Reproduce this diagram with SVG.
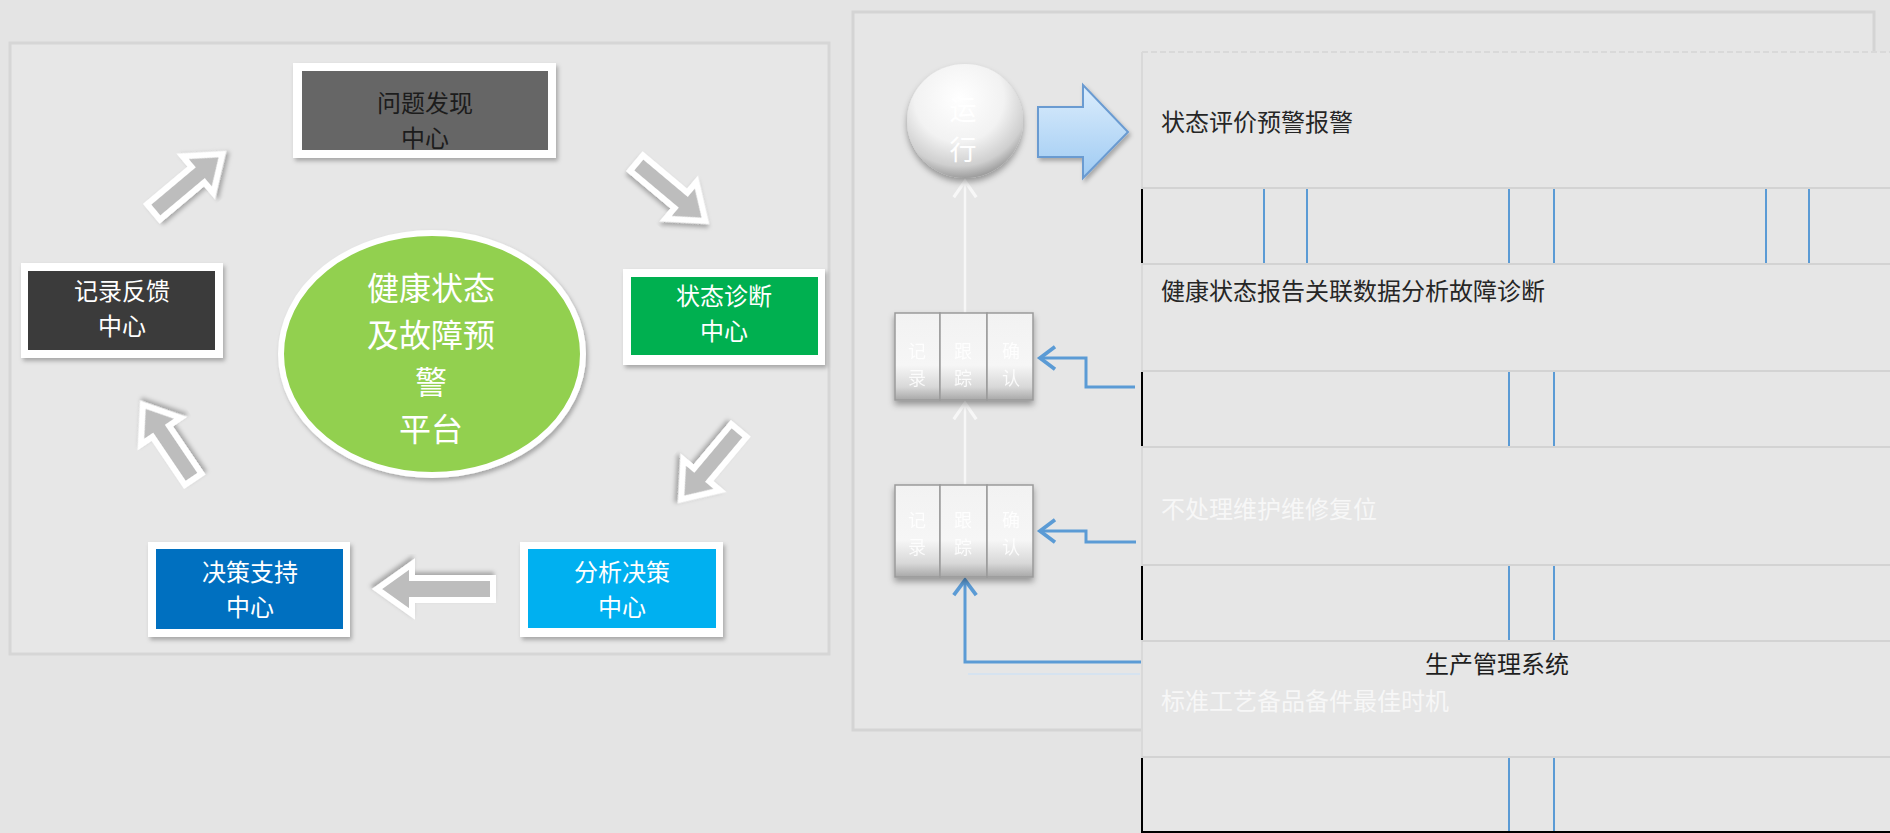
<svg xmlns="http://www.w3.org/2000/svg" width="1890" height="833" viewBox="0 0 1890 833">
<defs>
<style>
.cn{font-family:"Noto Sans CJK SC","Liberation Sans",sans-serif;}
.box-t{font-size:24px;text-anchor:middle;}
.ell-t{font-size:32px;fill:#ffffff;text-anchor:middle;}
.row-t{font-size:24px;dominant-baseline:central;}
.cell-t{font-size:18px;fill:#ffffff;fill-opacity:0.85;text-anchor:middle;}
.sep{stroke:#d3d3d3;stroke-width:2;}
.blk{stroke:#000000;stroke-width:2;}
.bl{stroke:#5b9bd5;stroke-width:2;}
.garrow{fill:#bdbdbd;stroke:#ffffff;stroke-width:6;stroke-linejoin:miter;filter:url(#sh);}
.cell{fill:url(#cellG);stroke:#9a9a9a;stroke-width:1.5;}
.conn-w{fill:none;stroke:#f7f7f7;stroke-width:2.5;}
.conn-b{fill:none;stroke:#5b9bd5;stroke-width:3;}
</style>
<filter id="sh" x="-20%" y="-20%" width="140%" height="140%">
<feDropShadow dx="2" dy="3" stdDeviation="2" flood-color="#000" flood-opacity="0.28"/>
</filter>
<filter id="sh2" x="-20%" y="-20%" width="140%" height="150%">
<feDropShadow dx="0" dy="4" stdDeviation="3" flood-color="#000" flood-opacity="0.35"/>
</filter>
<radialGradient id="ballG" cx="45%" cy="30%" r="70%">
<stop offset="0" stop-color="#ffffff"/>
<stop offset="0.55" stop-color="#f2f2f2"/>
<stop offset="0.85" stop-color="#cfcfcf"/>
<stop offset="1" stop-color="#9e9e9e"/>
</radialGradient>
<linearGradient id="cellG" x1="0" y1="0" x2="0" y2="1">
<stop offset="0" stop-color="#f2f2f2"/>
<stop offset="0.6" stop-color="#f6f6f6"/>
<stop offset="0.85" stop-color="#d8d8d8"/>
<stop offset="1" stop-color="#a8a8a8"/>
</linearGradient>
<linearGradient id="blueA" x1="0" y1="0" x2="0" y2="1">
<stop offset="0" stop-color="#dcedfc"/>
<stop offset="1" stop-color="#9fcbf3"/>
</linearGradient>
<marker id="chevB" markerUnits="userSpaceOnUse" markerWidth="30" markerHeight="30" viewBox="-16 -12 20 24" refX="0" refY="0" orient="auto" overflow="visible">
<path d="M-12,-9 L0,0 L-12,9" fill="none" stroke="#5b9bd5" stroke-width="3"/>
</marker>
<marker id="chevW" markerUnits="userSpaceOnUse" markerWidth="30" markerHeight="30" viewBox="-16 -12 20 24" refX="0" refY="0" orient="auto" overflow="visible">
<path d="M-13,-9 L0,0 L-13,9" fill="none" stroke="#f7f7f7" stroke-width="2.5"/>
</marker>
</defs>

<rect x="0" y="0" width="1890" height="833" fill="#e4e4e4"/>

<g id="left-panel">
<rect x="10" y="43" width="819" height="611" fill="#e7e7e7" stroke="#d6d6d6" stroke-width="3"/>
</g>

<g id="right-panel">
<rect x="853" y="12" width="1021" height="718" fill="#e6e6e6" stroke="#d4d4d4" stroke-width="3"/>
</g>

<g id="table">
<rect x="1142" y="52" width="748" height="781" fill="#e6e6e6"/>
<line x1="1142" y1="52" x2="1890" y2="52" stroke="#d9d9d9" stroke-width="2" stroke-dasharray="6 3"/>
<line x1="1142" y1="52" x2="1142" y2="833" stroke="#d9d9d9" stroke-width="2"/>
<line class="sep" x1="1142" y1="188" x2="1890" y2="188"/>
<line class="sep" x1="1142" y1="264" x2="1890" y2="264"/>
<line class="sep" x1="1142" y1="371" x2="1890" y2="371"/>
<line class="sep" x1="1142" y1="447" x2="1890" y2="447"/>
<line class="sep" x1="1142" y1="565" x2="1890" y2="565"/>
<line class="sep" x1="1142" y1="641" x2="1890" y2="641"/>
<line class="sep" x1="1142" y1="757" x2="1890" y2="757"/>
<line class="blk" x1="1142" y1="189" x2="1142" y2="263"/>
<line class="blk" x1="1142" y1="372" x2="1142" y2="446"/>
<line class="blk" x1="1142" y1="566" x2="1142" y2="640"/>
<line class="blk" x1="1142" y1="758" x2="1142" y2="833"/>
<line class="blk" x1="1142" y1="832" x2="1890" y2="832"/>
<line class="bl" x1="1264" y1="189" x2="1264" y2="263"/>
<line class="bl" x1="1307" y1="189" x2="1307" y2="263"/>
<line class="bl" x1="1509" y1="189" x2="1509" y2="263"/>
<line class="bl" x1="1554" y1="189" x2="1554" y2="263"/>
<line class="bl" x1="1766" y1="189" x2="1766" y2="263"/>
<line class="bl" x1="1809" y1="189" x2="1809" y2="263"/>
<line class="bl" x1="1509" y1="372" x2="1509" y2="446"/>
<line class="bl" x1="1554" y1="372" x2="1554" y2="446"/>
<line class="bl" x1="1509" y1="566" x2="1509" y2="640"/>
<line class="bl" x1="1554" y1="566" x2="1554" y2="640"/>
<line class="bl" x1="1509" y1="758" x2="1509" y2="831"/>
<line class="bl" x1="1554" y1="758" x2="1554" y2="831"/>
<text class="cn row-t" x="1161" y="120" fill="#262626">状态评价预警报警</text>
<text class="cn row-t" x="1161" y="289" fill="#262626">健康状态报告关联数据分析故障诊断</text>
<text class="cn row-t" x="1161" y="507" fill="#f7f7f7">不处理维护维修复位</text>
<text class="cn row-t" x="1497" y="662" fill="#1f1f1f" text-anchor="middle">生产管理系统</text>
<text class="cn row-t" x="1161" y="699" fill="#f7f7f7">标准工艺备品备件最佳时机</text>
</g>

<g id="connectors">
<polygon class="garrow" transform="translate(188,183) rotate(-40)" points="-45,-10 13,-10 13,-24 45,0 13,24 13,10 -45,10"/>
<polygon class="garrow" transform="translate(671,192) rotate(40)" points="-45,-10 13,-10 13,-24 45,0 13,24 13,10 -45,10"/>
<polygon class="garrow" transform="translate(710,465) rotate(130)" points="-45,-10 13,-10 13,-24 45,0 13,24 13,10 -45,10"/>
<polygon class="garrow" transform="translate(435,589) rotate(180)" points="-58,-11 23,-11 23,-25 58,0 23,25 23,11 -58,11"/>
<polygon class="garrow" transform="translate(168,442) rotate(-124)" points="-45,-10 13,-10 13,-24 45,0 13,24 13,10 -45,10"/>
<polygon points="1038,107 1083,107 1083,85 1128,132 1083,178 1083,157 1038,157" fill="url(#blueA)" stroke="#6b9bd1" stroke-width="2" filter="url(#sh)"/>
<path class="conn-w" d="M965,313 V181" marker-end="url(#chevW)"/>
<path class="conn-w" d="M965,485 V403" marker-end="url(#chevW)"/>
<path d="M1140,674 H968" fill="none" stroke="#d6e3f0" stroke-width="2"/>
<path class="conn-b" d="M1141,662 H965 V580" marker-end="url(#chevB)"/>
<path class="conn-b" d="M1135,387 H1086 V358 H1040" marker-end="url(#chevB)"/>
<path class="conn-b" d="M1136,542 H1086 V531 H1040" marker-end="url(#chevB)"/>
</g>

<g id="node-wenti">
<rect x="293" y="63" width="263" height="95" fill="#ffffff" filter="url(#sh)"/>
<rect x="302" y="71" width="246" height="79" fill="#666666"/>
<text class="cn box-t" fill="#1c1c1c"><tspan x="425" y="112">问题发现</tspan><tspan x="425" y="147">中心</tspan></text>
</g>
<g id="node-jilu">
<rect x="21" y="263" width="202" height="95" fill="#ffffff" filter="url(#sh)"/>
<rect x="28" y="271" width="187" height="79" fill="#3b3b3b"/>
<text class="cn box-t" fill="#ffffff"><tspan x="122" y="300">记录反馈</tspan><tspan x="122" y="335">中心</tspan></text>
</g>
<g id="node-zhuangtai">
<rect x="623" y="269" width="202" height="96" fill="#ffffff" filter="url(#sh)"/>
<rect x="631" y="277" width="187" height="78" fill="#00b050"/>
<text class="cn box-t" fill="#ffffff"><tspan x="724" y="305">状态诊断</tspan><tspan x="724" y="340">中心</tspan></text>
</g>
<g id="node-juece">
<rect x="148" y="542" width="202" height="95" fill="#ffffff" filter="url(#sh)"/>
<rect x="156" y="549" width="187" height="80" fill="#0070c0"/>
<text class="cn box-t" fill="#ffffff"><tspan x="250" y="581">决策支持</tspan><tspan x="250" y="616">中心</tspan></text>
</g>
<g id="node-fenxi">
<rect x="520" y="542" width="203" height="95" fill="#ffffff" filter="url(#sh)"/>
<rect x="528" y="549" width="188" height="79" fill="#00b0f0"/>
<text class="cn box-t" fill="#ffffff"><tspan x="622" y="581">分析决策</tspan><tspan x="622" y="616">中心</tspan></text>
</g>
<g id="node-platform">
<ellipse cx="432" cy="354" rx="151" ry="121" fill="#92d050" stroke="#ffffff" stroke-width="6" filter="url(#sh)"/>
<text class="cn ell-t"><tspan x="431" y="300">健康状态</tspan><tspan x="431" y="347">及故障预</tspan><tspan x="431" y="394">警</tspan><tspan x="431" y="441">平台</tspan></text>
</g>

<g id="node-yunxing">
<ellipse cx="965" cy="121" rx="58" ry="57" fill="url(#ballG)" filter="url(#sh2)"/>
<text class="cn" font-size="27" fill="#ffffff" text-anchor="middle"><tspan x="963" y="120">运</tspan><tspan x="963" y="160">行</tspan></text>
</g>

<g id="node-track1" filter="url(#sh2)">
<rect class="cell" x="895" y="313" width="45" height="87"/>
<rect class="cell" x="940" y="313" width="47" height="87"/>
<rect class="cell" x="987" y="313" width="46" height="87"/>
<text class="cn cell-t"><tspan x="917" y="358">记</tspan><tspan x="917" y="385">录</tspan></text>
<text class="cn cell-t"><tspan x="963" y="358">跟</tspan><tspan x="963" y="385">踪</tspan></text>
<text class="cn cell-t"><tspan x="1011" y="358">确</tspan><tspan x="1011" y="385">认</tspan></text>
</g>
<g id="node-track2" filter="url(#sh2)">
<rect class="cell" x="895" y="485" width="45" height="92"/>
<rect class="cell" x="940" y="485" width="47" height="92"/>
<rect class="cell" x="987" y="485" width="46" height="92"/>
<text class="cn cell-t"><tspan x="917" y="527">记</tspan><tspan x="917" y="554">录</tspan></text>
<text class="cn cell-t"><tspan x="963" y="527">跟</tspan><tspan x="963" y="554">踪</tspan></text>
<text class="cn cell-t"><tspan x="1011" y="527">确</tspan><tspan x="1011" y="554">认</tspan></text>
</g>
</svg>
